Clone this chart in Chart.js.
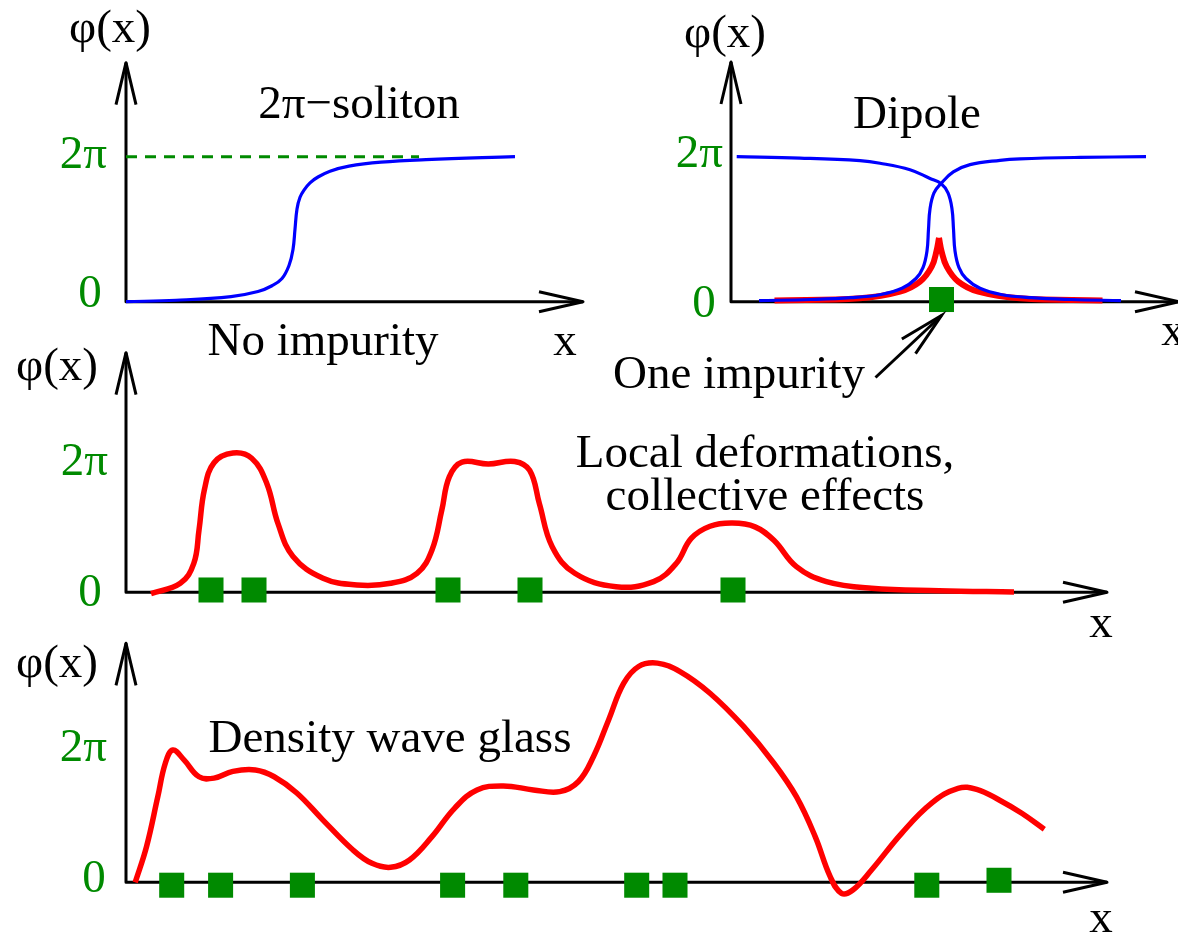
<!DOCTYPE html>
<html>
<head>
<meta charset="utf-8">
<script src="https://cdn.jsdelivr.net/npm/chart.js@4.4.1/dist/chart.umd.min.js"></script>
<style>
  body { margin: 0; background: #fff; }
  #figure { position: relative; width: 1178px; height: 933px; overflow: hidden; }
  #figure canvas { position: absolute; left: 0; top: 0; }
</style>
</head>
<body>
<div id="figure">
  <canvas id="soliton" width="1178" height="933"></canvas>
  <canvas id="dipole" width="1178" height="933"></canvas>
  <canvas id="local" width="1178" height="933"></canvas>
  <canvas id="glass" width="1178" height="933"></canvas>
</div>
<script>
// phase phi(x) in units of pi (2 = 2pi), x in arbitrary units along each axis
const tickLabels = ['0', '2π'];
const tickValues = [0, 2];

// top left: free 2pi soliton
const solitonCurve = [[0,0],[5,0.02],[10.5,0.07],[13.2,0.14],[14.6,0.22],[15.6,0.32],[16.3,0.5],[16.7,0.72],[16.9,1.0],[17.1,1.28],[17.4,1.44],[17.8,1.54],[18.4,1.64],[19.2,1.72],[20.4,1.8],[22.3,1.87],[25.5,1.925],[30,1.96],[38.9,2.0]];
const solitonDash = [[0,2],[29.3,2]];

// top right: dipole around one impurity
const dipoleLeft = [[0.57,2.0],[6.9,1.98],[12.9,1.945],[14.9,1.91],[17.9,1.82],[19.9,1.7],[21.0,1.63],[21.7,1.5],[22.1,1.28],[22.25,1.0],[22.4,0.7],[22.8,0.47],[23.5,0.32],[24.9,0.185],[27,0.1],[30,0.055],[34,0.03],[39.0,0.015]];
const dipoleRight = [[2.8,0.015],[8,0.03],[12,0.055],[15,0.1],[17.1,0.185],[18.5,0.32],[19.2,0.47],[19.6,0.7],[19.75,1.0],[19.9,1.28],[20.3,1.5],[21.0,1.63],[22.23,1.79],[23.9,1.89],[26.9,1.95],[28.9,1.97],[34.9,1.99],[41.5,2.0]];
const cuspRise = [[4.35,0.017],[12.9,0.047],[16.9,0.138],[18.9,0.276],[20.07,0.483],[20.55,0.7],[20.8,0.88]];
const cuspFall = [[20.8,0.88],[21.05,0.7],[21.57,0.483],[22.73,0.276],[24.73,0.138],[28.9,0.047],[37.15,0.017]];
const oneImpurity = [[21.05,0.03]];

// middle: local deformations
const localCurve = [[2.5,-0.02],[5.43,0.14],[6.78,0.45],[7.3,0.97],[7.84,1.6],[8.8,2.02],[10.69,2.17],[12.57,2.09],[14.07,1.7],[15.2,1.07],[16.7,0.56],[19.7,0.22],[23.09,0.114],[26.47,0.14],[29.1,0.295],[30.6,0.66],[31.58,1.28],[32.33,1.8],[33.6,2.03],[36.24,2.0],[38.86,2.04],[40.37,1.9],[41.34,1.38],[42.62,0.71],[44.88,0.297],[49.0,0.088],[52.76,0.166],[55.02,0.45],[56.52,0.84],[58.4,1.03],[60.65,1.08],[62.9,1.02],[64.79,0.81],[67.04,0.4],[70.04,0.166],[74.55,0.062],[81.3,0.025],[88.8,0.005]];
const localImpurities = [[8.5,0.036],[12.8,0.036],[32.2,0.036],[40.4,0.036],[60.7,0.036]];

// bottom: density wave glass
const glassCurve = [[0.92,0],[2.05,0.526],[3.18,1.265],[3.93,1.76],[4.68,1.955],[5.8,1.81],[7.3,1.56],[8.8,1.54],[10.69,1.64],[12.94,1.66],[14.82,1.56],[17.08,1.32],[19.7,0.92],[22.7,0.477],[24.6,0.28],[26.47,0.222],[28.35,0.33],[30.6,0.675],[32.85,1.094],[35.1,1.366],[37.74,1.425],[40.74,1.366],[43.37,1.34],[45.25,1.49],[46.75,1.86],[48.26,2.4],[49.76,2.94],[51.26,3.19],[53.14,3.24],[55.4,3.115],[58.4,2.795],[61.78,2.3],[64.79,1.76],[67.04,1.265],[68.92,0.675],[70.42,0.083],[71.55,-0.163],[72.68,-0.114],[74.55,0.182],[77.56,0.724],[80.56,1.17],[83.2,1.39],[85.07,1.375],[87.32,1.217],[89.58,1.02],[91.83,0.784]];
const glassImpurities = [[4.57,-0.043],[9.46,-0.043],[17.64,-0.043],[32.66,-0.043],[38.98,-0.043],[51.07,-0.043],[54.9,-0.043],[80.08,-0.043],[87.3,0.03]];

const W = 1178, H = 933;
const GREEN = '#008a00';
const FONT = '47px "Liberation Serif", "DejaVu Serif", serif';

const pts = arr => arr.map(([x, y]) => ({ x, y }));

const curve = (data, color, width, extra) => Object.assign({
  data: pts(data), borderColor: color, borderWidth: width, pointRadius: 0,
  fill: false, tension: 0.4, clip: false
}, extra || {});

const squares = data => ({
  type: 'scatter', data: pts(data), pointStyle: 'rect', pointRadius: 17.7,
  backgroundColor: GREEN, borderWidth: 0, showLine: false, clip: false
});

// open "V" arrowhead
const arrowHead = (ctx, tx, ty, dx, dy, len, half) => {
  const l = Math.hypot(dx, dy), ux = dx / l, uy = dy / l;
  const bx = tx - ux * len, by = ty - uy * len;
  ctx.beginPath();
  ctx.moveTo(bx - uy * half, by + ux * half);
  ctx.lineTo(tx, ty);
  ctx.lineTo(bx + uy * half, by - ux * half);
  ctx.stroke();
};

const axesPlugin = {
  id: 'axes',
  beforeDatasetsDraw(chart, args, opts) {
    const { ctx, scales: { x, y } } = chart;
    const x0 = x.getPixelForValue(0), x1 = x.getPixelForValue(x.max) + (opts.overhang || 0);
    const y0 = y.getPixelForValue(0), y1 = y.getPixelForValue(y.max);
    ctx.save();
    ctx.strokeStyle = '#000'; ctx.lineWidth = 3; ctx.lineJoin = 'round';
    ctx.beginPath();
    ctx.moveTo(x0, y1); ctx.lineTo(x0, y0); ctx.lineTo(x1, y0);
    ctx.stroke();
    arrowHead(ctx, x1, y0, 1, 0, 44, 10);
    arrowHead(ctx, x0, y1, 0, -1, 42, 10);
    ctx.restore();
  },
  afterDatasetsDraw(chart, args, opts) {
    const { ctx, scales: { x, y } } = chart;
    ctx.save();
    ctx.font = FONT;
    ctx.textBaseline = 'alphabetic';
    // tick labels 0 and 2pi
    ctx.fillStyle = GREEN;
    ctx.textAlign = 'right';
    ctx.fillText(tickLabels[1], opts.tickRight, y.getPixelForValue(tickValues[1]) + opts.tickOff[1]);
    ctx.textAlign = 'center';
    ctx.fillText(tickLabels[0], opts.zeroX, y.getPixelForValue(tickValues[0]) + opts.tickOff[0]);
    ctx.fillStyle = '#000';
    opts.texts.forEach(t => ctx.fillText(t[0], t[1], t[2]));
    if (opts.pointer) {
      const [px, py] = opts.pointer.at;
      const tx = x.getPixelForValue(px), ty = y.getPixelForValue(py) + 16;
      const fx = tx - 66, fy = ty + 62;
      ctx.strokeStyle = '#000'; ctx.lineWidth = 3;
      ctx.beginPath(); ctx.moveTo(fx, fy); ctx.lineTo(tx, ty); ctx.stroke();
      arrowHead(ctx, tx, ty, 66, -62, 45, 10);
    }
    ctx.restore();
  }
};

// panel frame: origin x, pixel of phi=0, pixels per pi, arrow tips
const makePanel = (id, frame, datasets, axesOpts) => {
  const yMax = (frame.zero - frame.tipY) / frame.unit;
  const bottom = frame.zero + 0.4 * frame.unit;
  return new Chart(document.getElementById(id), {
    type: 'line',
    data: { datasets },
    options: {
      responsive: false, animation: false, events: [],
      layout: { padding: { left: frame.left, right: W - frame.tipX, top: frame.tipY, bottom: H - bottom } },
      scales: {
        x: { type: 'linear', display: false, min: 0, max: (frame.tipX - frame.left) / 10 },
        y: { type: 'linear', display: false, min: -0.4, max: yMax }
      },
      plugins: { legend: { display: false }, tooltip: { enabled: false }, axes: axesOpts }
    },
    plugins: [axesPlugin]
  });
};

makePanel('soliton', { left: 126, zero: 301.7, unit: 72.5, tipX: 583, tipY: 62.7 }, [
  curve(solitonCurve, '#0000ff', 3.2),
  curve(solitonDash, GREEN, 3, { borderDash: [11, 8], tension: 0 })
], {
  tickRight: 107, zeroX: 90, tickOff: [5, 11.6],
  texts: [['φ(x)', 110, 42], ['2π−soliton', 359, 118], ['No impurity', 323, 355], ['x', 565, 355]]
});

// right padding kept above the square marker size, the arrow runs on past the plot edge
makePanel('dipole', { left: 731, zero: 301.7, unit: 72.5, tipX: 1154, tipY: 62 }, [
  squares(oneImpurity),
  curve(dipoleLeft, '#0000ff', 3.2),
  curve(dipoleRight, '#0000ff', 3.2),
  curve(cuspRise, '#ff0000', 6),
  curve(cuspFall, '#ff0000', 6)
], {
  overhang: 25,
  tickRight: 723, zeroX: 704, tickOff: [15, 10],
  texts: [['φ(x)', 725, 47], ['Dipole', 917, 128], ['x', 1173, 345], ['One impurity', 739, 388]],
  pointer: { at: oneImpurity[0] }
});

makePanel('local', { left: 126, zero: 592.3, unit: 64.15, tipX: 1107, tipY: 352.7 }, [
  squares(localImpurities),
  curve(localCurve, '#ff0000', 5.5)
], {
  tickRight: 108, zeroX: 90, tickOff: [14, 11],
  texts: [['φ(x)', 57, 380], ['Local deformations,', 765, 467], ['collective effects', 765, 510], ['x', 1101, 637]]
});

makePanel('glass', { left: 126, zero: 882.3, unit: 67.65, tipX: 1107, tipY: 643.3 }, [
  squares(glassImpurities),
  curve(glassCurve, '#ff0000', 5.5)
], {
  tickRight: 107, zeroX: 94, tickOff: [9.4, 14.4],
  texts: [['φ(x)', 57, 677], ['Density wave glass', 390, 752], ['x', 1101, 932]]
});
</script>
</body>
</html>
